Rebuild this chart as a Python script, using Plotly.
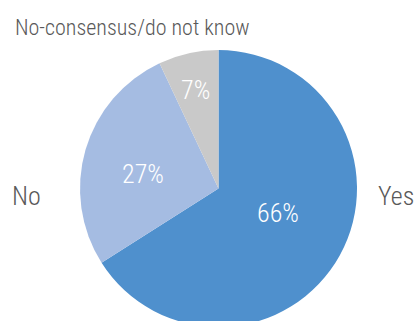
import plotly.graph_objects as go

labels = ["Yes", "No", "No-consensus/do not know"]
values = [66, 27, 7]
colors = ["#4F90CD", "#A5BCE2", "#C9C9C9"]

# where the texts sit, in plot-area fractions
pct_pos = [(0.715, 0.413), (0.226, 0.551), (0.417, 0.854)]
name_pos = [(1.141, 0.473, "center"), (-0.193, 0.473, "center"), (-0.242, 1.083, "left")]
name_sizes = [26, 26, 22]

FONT = "Roboto Condensed, Roboto"

fig = go.Figure()
fig.add_trace(go.Pie(
    labels=labels,
    values=values,
    sort=False,
    direction="clockwise",
    rotation=0,
    marker=dict(colors=colors, line=dict(width=0)),
    textinfo="none",
    showlegend=False,
    hoverinfo="label+percent",
))

total = sum(values)
for v, (x, y) in zip(values, pct_pos):
    fig.add_annotation(x=x, y=y, xref="paper", yref="paper",
                       xanchor="center", yanchor="middle",
                       text=f"{round(100 * v / total)}%", showarrow=False,
                       font=dict(family=FONT, size=26, color="white", weight=300))

for lab, (x, y, anc), sz in zip(labels, name_pos, name_sizes):
    fig.add_annotation(x=x, y=y, xref="paper", yref="paper",
                       xanchor=anc, yanchor="middle",
                       text=lab, showarrow=False,
                       font=dict(family=FONT, size=sz, color="#595959", weight=300))

fig.update_layout(
    width=414,
    height=328,
    margin=dict(l=80, r=57, t=50, b=1),
    paper_bgcolor="white",
    plot_bgcolor="white",
)

# the pie runs off the bottom edge: no page margin, no scrollbars
fig.write_html(
    "out.html",
    config={"displayModeBar": False},
    post_script="document.body.style.margin='0';"
                "document.documentElement.style.overflow='hidden';"
                "document.body.style.overflow='hidden';",
)
